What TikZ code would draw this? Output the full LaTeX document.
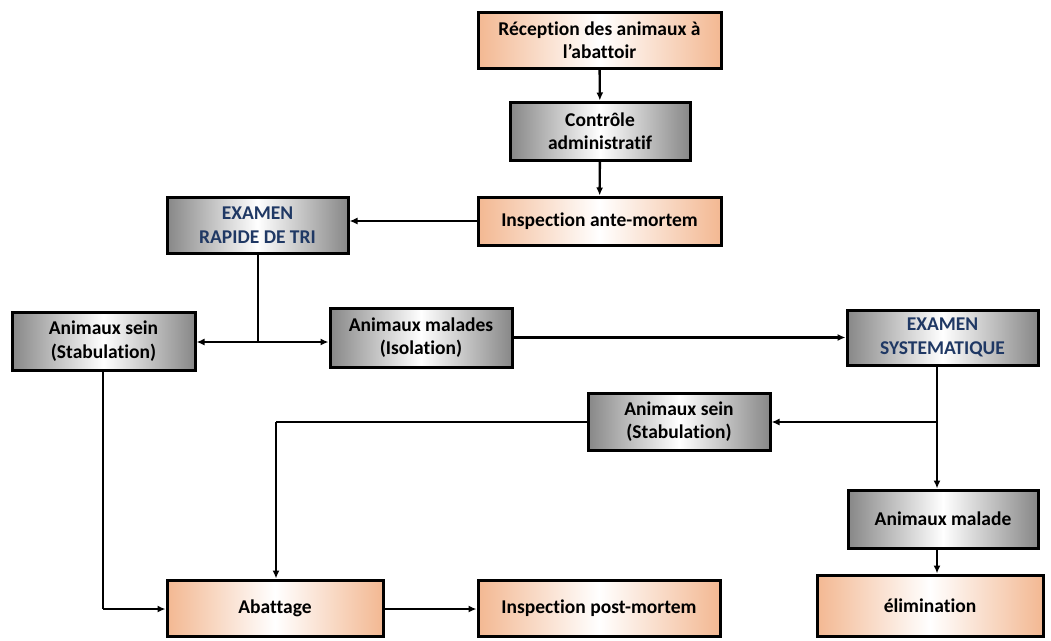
\documentclass[tikz,border=0pt]{standalone}
\usepackage{fontspec}
\setmainfont{Carlito}[Ligatures=NoCommon]
\usetikzlibrary{arrows.meta}
\definecolor{peach}{RGB}{243,184,146}
\definecolor{greyedge}{RGB}{135,135,135}
\definecolor{navy}{RGB}{31,56,100}
\tikzset{
  box/.style={draw=black, line width=3pt, inner sep=0pt, align=center,
    font=\fontsize{19.5}{23.5}\selectfont\bfseries},
  greybox/.style={box, left color=greyedge, right color=greyedge, middle color=white},
  peachbox/.style={box, left color=peach, right color=peach, middle color=white},
  conn/.style={line width=2.4pt},
  arr/.style={conn, -{Latex[length=8pt,width=7pt]}},
}
\begin{document}
\begin{tikzpicture}[x=1pt,y=-1pt]
\useasboundingbox (0,0) rectangle (1051,640);
\node[peachbox, minimum width=243pt, minimum height=56pt] (recep) at (599.5,40) {Réception des animaux à\\l’abattoir};
\node[greybox, minimum width=180pt, minimum height=58pt] (ctrl) at (600,131) {Contrôle\\administratif};
\node[peachbox, minimum width=243pt, minimum height=48pt] (ante) at (599.5,221) {Inspection ante-mortem};
\node[greybox, minimum width=181pt, minimum height=56pt, text=navy] (rapide) at (257.5,225) {EXAMEN\\RAPIDE DE TRI};
\node[greybox, minimum width=183pt, minimum height=58pt] (sein1) at (103.5,341) {Animaux sein\\(Stabulation)};
\node[greybox, minimum width=182pt, minimum height=59pt] (malades) at (421,337.5) {Animaux malades\\(Isolation)};
\node[greybox, minimum width=191pt, minimum height=55pt, text=navy] (syst) at (942.5,337.5) {EXAMEN\\SYSTEMATIQUE};
\node[greybox, minimum width=182pt, minimum height=57pt] (sein2) at (679,421.5) {Animaux sein\\(Stabulation)};
\node[greybox, minimum width=190pt, minimum height=58pt] (malade) at (943,519) {Animaux malade};
\node[peachbox, minimum width=216pt, minimum height=56pt] (abat) at (275,608) {Abattage};
\node[peachbox, minimum width=242pt, minimum height=56pt] (post) at (599,608) {Inspection post-mortem};
\node[peachbox, minimum width=226pt, minimum height=61pt] (elim) at (930,605.5) {élimination};

\coordinate (split) at (258,342);
\coordinate (sysx) at (937,422);
\coordinate (corner) at (276,422);
\coordinate (seindown) at (103,609);

\draw[arr] (recep) -- (ctrl);
\draw[arr] (ctrl) -- (ante);
\draw[arr] (ante.west) -- (rapide.east |- ante.west);
\draw[conn] (rapide.south -| split) -- (split);
\draw[arr] (split) -- (sein1.east |- split);
\draw[arr] (split) -- (malades.west |- split);
\draw[arr] (malades.east) -- (syst.west |- malades.east);
\draw[conn] (syst.south -| sysx) -- (sysx);
\draw[arr] (sysx) -- (sein2.east |- sysx);
\draw[arr] (sysx) -- (malade.north -| sysx);
\draw[arr] (malade.south -| sysx) -- (elim.north -| sysx);
\draw[conn] (sein2.west |- corner) -- (corner);
\draw[arr] (corner) -- (abat.north -| corner);
\draw[conn] (sein1.south -| seindown) -- (seindown);
\draw[arr] (seindown) -- (abat.west |- seindown);
\draw[arr] (abat.east |- seindown) -- (post.west |- seindown);
\end{tikzpicture}
\end{document}
